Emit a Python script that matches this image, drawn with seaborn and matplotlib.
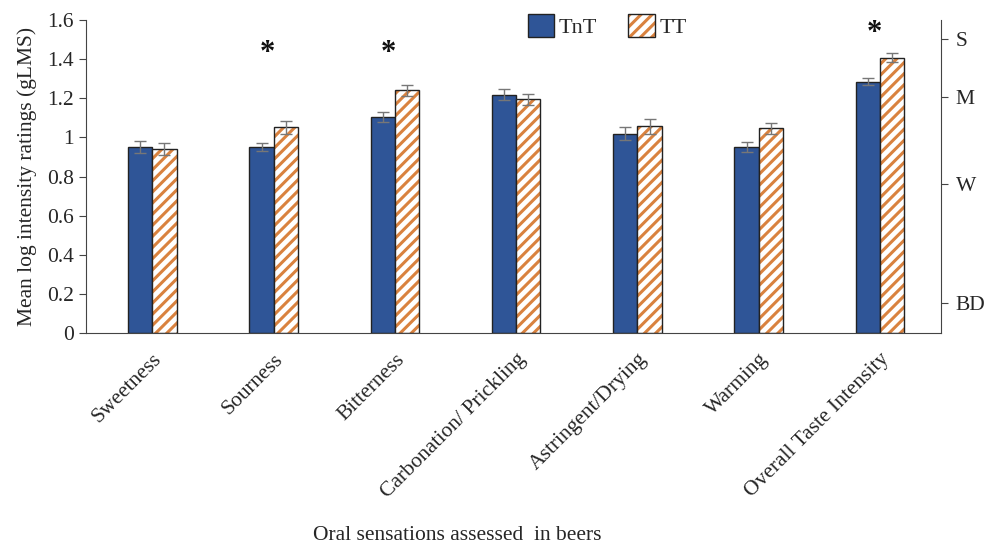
import numpy as np
import pandas as pd
import matplotlib.pyplot as plt
import matplotlib.patches as mpatches
from matplotlib.legend_handler import HandlerTuple
import seaborn as sns

# --- Data ---
sensations = ['Sweetness', 'Sourness', 'Bitterness', 'Carbonation/ Prickling',
              'Astringent/Drying', 'Warming', 'Overall Taste Intensity']
tnt_mean = [0.95, 0.95, 1.105, 1.218, 1.02, 0.95, 1.285]
tt_mean = [0.94, 1.052, 1.241, 1.195, 1.056, 1.047, 1.408]
tnt_se = [0.032, 0.02, 0.027, 0.028, 0.032, 0.026, 0.017]
tt_se = [0.032, 0.032, 0.029, 0.027, 0.036, 0.027, 0.025]
significant = ['Sourness', 'Bitterness', 'Overall Taste Intensity']

glms_ticks = [0.153, 0.762, 1.207, 1.503]
glms_labels = ['BD', 'W', 'M', 'S']

groups = ['TnT', 'TT']
df = pd.DataFrame({
    'sensation': sensations * 2,
    'group': ['TnT'] * len(sensations) + ['TT'] * len(sensations),
    'value': tnt_mean + tt_mean,
})

# --- Style ---
sns.set_style('ticks')
plt.rcParams['font.family'] = ['Liberation Serif', 'DejaVu Serif']
plt.rcParams['hatch.linewidth'] = 2.2

blue = '#2F5597'
orange = '#D9823F'
fs = 15.5

fig = plt.figure(figsize=(9.87, 5.48), dpi=100)
ax = fig.add_axes([0.0868, 0.392, 0.953 - 0.0868, 0.9635 - 0.392])

sns.barplot(data=df, x='sensation', y='value', hue='group', hue_order=groups,
            order=sensations, palette=[blue, 'white'], width=0.4, saturation=1,
            errorbar=None, edgecolor='#222222', linewidth=1.0, legend=False, ax=ax)

n = len(sensations)
bars = ax.patches[:2 * n]
tnt_bars, tt_bars = bars[:n], bars[n:]

# hatch the TT bars in orange, then redraw a dark outline on top
for p in tt_bars:
    p.set_hatch('///')
    p.set_edgecolor(orange)
    p.set_linewidth(0)
ax.bar([p.get_x() for p in tt_bars], [p.get_height() for p in tt_bars],
       width=[p.get_width() for p in tt_bars], align='edge',
       facecolor='none', edgecolor='#222222', linewidth=1.0, zorder=3)

# error bars
for blist, se in [(tnt_bars, tnt_se), (tt_bars, tt_se)]:
    xs = [p.get_x() + p.get_width() / 2 for p in blist]
    ys = [p.get_height() for p in blist]
    ax.errorbar(xs, ys, yerr=se, fmt='none', ecolor='#777777',
                elinewidth=1.0, capsize=4, capthick=1.0, zorder=4)

# significance stars
for s in significant:
    i = sensations.index(s)
    top = max(tnt_mean[i], tt_mean[i])
    ax.text(i - 0.05, 1.53 if top > 1.3 else 1.43, '*', ha='center', va='center',
            fontsize=22, fontweight='bold', color='#111111')

ax.set_xlim(-0.55, n - 0.5)
ax.set_ylim(0, 1.6)
ax.set_yticks(np.arange(0, 1.61, 0.2))
ax.set_yticklabels(['%g' % round(v, 1) for v in np.arange(0, 1.61, 0.2)], fontsize=fs)
ax.set_xticks(range(n))
ax.set_xticklabels(sensations, rotation=45, ha='right', rotation_mode='anchor', fontsize=fs)
ax.tick_params(axis='x', length=0, pad=12)
ax.tick_params(axis='y', length=5, color='#444444')

ax.set_ylabel('Mean log intensity ratings (gLMS)', fontsize=fs)
ax.yaxis.set_label_coords(-0.057, 0.5)
ax.set_xlabel('')
fig.text(457 / 987, 1 - 535 / 548, 'Oral sensations assessed  in beers',
         ha='center', va='center', fontsize=fs)

for sp in ['left', 'bottom']:
    ax.spines[sp].set_color('#444444')
ax.spines['top'].set_visible(False)
ax.spines['right'].set_visible(False)

# right-hand gLMS descriptor axis
ax2 = ax.twinx()
ax2.set_ylim(0, 1.6)
ax2.set_yticks(glms_ticks)
ax2.set_yticklabels(glms_labels, fontsize=fs)
ax2.tick_params(axis='y', length=5, color='#444444', pad=6)
ax2.spines['right'].set_color('#444444')
for sp in ['top', 'left', 'bottom']:
    ax2.spines[sp].set_visible(False)

# legend
h_tnt = mpatches.Patch(facecolor=blue, edgecolor='#222222', linewidth=1.0)
h_tt_fill = mpatches.Patch(facecolor='white', edgecolor=orange, hatch='///', linewidth=0)
h_tt_edge = mpatches.Patch(facecolor='none', edgecolor='#222222', linewidth=1.0)
ax.legend([h_tnt, (h_tt_fill, h_tt_edge)], groups, ncol=2, frameon=False,
          handler_map={tuple: HandlerTuple(ndivide=1)},
          loc='center', bbox_to_anchor=(0.610, 0.981), fontsize=16,
          handlelength=1.2, handleheight=1.2, handletextpad=0.2, columnspacing=1.4)

fig.savefig('out.png', dpi=100)
